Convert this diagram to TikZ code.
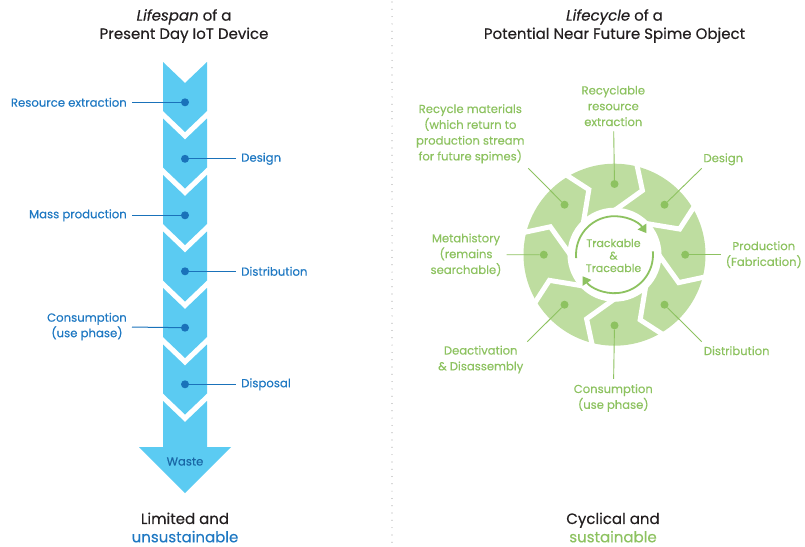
\documentclass[tikz,border=0pt]{standalone}
\usepackage{fontspec}
\setmainfont{Poppins}[FakeBold=0.35]
\usetikzlibrary{arrows.meta}
\definecolor{colblue}{HTML}{5BCBF2}
\definecolor{dotblue}{HTML}{1A72BA}
\definecolor{labblue}{HTML}{1E78C2}
\definecolor{ringgreen}{HTML}{BEDDA0}
\definecolor{labgreen}{HTML}{8DC260}
\definecolor{titleblack}{HTML}{231F20}

\begin{document}
\begin{tikzpicture}[x=1pt,y=-1pt]
  \tikzstyle{title}=[text=titleblack,align=center,font=\fontsize{15}{18.3}\selectfont]
  \tikzstyle{bdot}=[circle,fill=dotblue,minimum size=8pt,inner sep=0pt]
  \tikzstyle{blab}=[text=labblue,align=center,inner sep=5pt,font=\fontsize{11.7}{15.5}\selectfont]
  \tikzstyle{bline}=[draw=dotblue,line width=1pt]
  \tikzstyle{gdot}=[circle,fill=labgreen,minimum size=8pt,inner sep=0pt]
  \tikzstyle{glab}=[text=labgreen,align=center,inner sep=5pt,font=\fontsize{11.6}{15.8}\selectfont]
  \tikzstyle{gline}=[draw=labgreen,line width=0.9pt]
  \tikzstyle{gap}=[draw=white,line width=5pt]
  \tikzstyle{turn}=[draw=labgreen,line width=1.8pt,-{Triangle[length=8pt,width=10pt]}]
  \useasboundingbox (0,0) rectangle (805,546);

  \draw[gray!70,line width=1.2pt,line cap=round,dash pattern=on 0pt off 7.3pt] (392,2) -- (392,546);

  \node[title] (lefttitle) at (184,26) {\textit{Lifespan} of a\\Present Day IoT Device};
  \node[title] (leftend) at (185,527.5) {Limited and\\\textcolor{labblue}{unsustainable}};
  \node[title] (righttitle) at (614.5,26) {\textit{Lifecycle} of a\\Potential Near Future Spime Object};
  \node[title] (rightend) at (613,527.5) {Cyclical and\\\textcolor{labgreen}{sustainable}};

  \fill[colblue] (163,62) -- (185,83) -- (207,62) -- (207,111) -- (185,132) -- (163,111) -- cycle;
  \fill[colblue] (163,118.5) -- (185,139.5) -- (207,118.5) -- (207,167.5) -- (185,188.5) -- (163,167.5) -- cycle;
  \fill[colblue] (163,175) -- (185,196) -- (207,175) -- (207,224) -- (185,245) -- (163,224) -- cycle;
  \fill[colblue] (163,231.5) -- (185,252.5) -- (207,231.5) -- (207,280.5) -- (185,301.5) -- (163,280.5) -- cycle;
  \fill[colblue] (163,288) -- (185,309) -- (207,288) -- (207,337) -- (185,358) -- (163,337) -- cycle;
  \fill[colblue] (163,344.5) -- (185,365.5) -- (207,344.5) -- (207,393.5) -- (185,414.5) -- (163,393.5) -- cycle;
  \fill[colblue] (163,401) -- (185,422) -- (207,401) -- (207,447) -- (231,447) -- (185,493) -- (139,447) -- (163,447) -- cycle;
  \node[text=labblue!85!black,font=\fontsize{11.6}{13}\selectfont] (waste) at (185,461.5) {Waste};

  \node[bdot] (L1) at (185,102.3) {};
  \node[bdot] (L2) at (185,158.8) {};
  \node[bdot] (L3) at (185,215.3) {};
  \node[bdot] (L4) at (185,271.3) {};
  \node[bdot] (L5) at (185,327.7) {};
  \node[bdot] (L6) at (185,384.3) {};

  \node[blab,anchor=east] (T1) at (132,102.3) {Resource extraction};
  \node[blab,anchor=west] (T2) at (236,158.8) {Design};
  \node[blab,anchor=east] (T3) at (132,215.3) {Mass production};
  \node[blab,anchor=west] (T4) at (236,271.3) {Distribution};
  \node[blab,anchor=east] (T5) at (132,326.5) {Consumption\\(use phase)};
  \node[blab,anchor=west] (T6) at (236,384.3) {Disposal};

  \draw[bline] (L1) -- (T1);
  \draw[bline] (L2) -- (T2);
  \draw[bline] (L3) -- (T3);
  \draw[bline] (L4) -- (T4);
  \draw[bline] (L5) -- (T5);
  \draw[bline] (L6) -- (T6);

  \begin{scope}[shift={(614.5,254.7)}]
    \fill[ringgreen] (0,0) circle (91pt);
    \fill[white] (0,0) circle (47pt);
    \draw[gap] (122.1:96pt) -- (120.5:91pt) -- (111.5:70pt) -- (130.5:47pt) -- (135.5:44pt);
    \draw[gap] (77.1:96pt) -- (75.5:91pt) -- (66.5:70pt) -- (85.5:47pt) -- (90.5:44pt);
    \draw[gap] (32.1:96pt) -- (30.5:91pt) -- (21.5:70pt) -- (40.5:47pt) -- (45.5:44pt);
    \draw[gap] (-12.9:96pt) -- (-14.5:91pt) -- (-23.5:70pt) -- (-4.5:47pt) -- (0.5:44pt);
    \draw[gap] (-57.9:96pt) -- (-59.5:91pt) -- (-68.5:70pt) -- (-49.5:47pt) -- (-44.5:44pt);
    \draw[gap] (-102.9:96pt) -- (-104.5:91pt) -- (-113.5:70pt) -- (-94.5:47pt) -- (-89.5:44pt);
    \draw[gap] (-147.9:96pt) -- (-149.5:91pt) -- (-158.5:70pt) -- (-139.5:47pt) -- (-134.5:44pt);
    \draw[gap] (167.1:96pt) -- (165.5:91pt) -- (156.5:70pt) -- (175.5:47pt) -- (180.5:44pt);

    \draw[turn] (185:38.5pt) arc[start angle=185,end angle=34,radius=38.5pt];
    \draw[turn] (5:38.5pt) arc[start angle=5,end angle=-146,radius=38.5pt];
    \node[text=labgreen,align=center,font=\fontsize{11}{12.5}\selectfont] (track) at (-1,0.8) {Trackable\\\&\\Traceable};

    \node[gdot] (D1) at (90:70.7pt) {};
    \node[gdot] (D2) at (45:70.7pt) {};
    \node[gdot] (D3) at (0:70.7pt) {};
    \node[gdot] (D4) at (-45:70.7pt) {};
    \node[gdot] (D5) at (-90:70.7pt) {};
    \node[gdot] (D6) at (-135:70.7pt) {};
    \node[gdot] (D7) at (180:70.7pt) {};
    \node[gdot] (D8) at (135:70.7pt) {};
  \end{scope}

  \node[glab] (G1) at (613.3,106) {Recyclable\\resource\\extraction};
  \node[glab] (G2) at (723.3,159.3) {Design};
  \node[glab] (G3) at (763.8,254.7) {Production\\(Fabrication)};
  \node[glab] (G4) at (736.7,350.7) {Distribution};
  \node[glab] (G5) at (613.3,398) {Consumption\\(use phase)};
  \node[glab] (G6) at (480.7,359.5) {Deactivation\\\& Disassembly};
  \node[glab] (G7) at (466,254.8) {Metahistory\\(remains\\searchable)};
  \node[glab] (G8) at (470.3,133.8) {Recycle materials\\(which return to\\production stream\\for future spimes)};

  \coordinate (E2) at (701.7,168.3);
  \coordinate (E4) at (701.7,341.7);
  \coordinate (E6) at (527.3,341.7);
  \coordinate (E8) at (528.3,168.3);

  \draw[gline] (D1) -- (G1);
  \draw[gline] (D2) -- (E2);
  \draw[gline] (D3) -- (G3);
  \draw[gline] (D4) -- (E4);
  \draw[gline] (D5) -- (G5);
  \draw[gline] (D6) -- (E6);
  \draw[gline] (D7) -- (G7);
  \draw[gline] (D8) -- (E8);
\end{tikzpicture}
\end{document}
